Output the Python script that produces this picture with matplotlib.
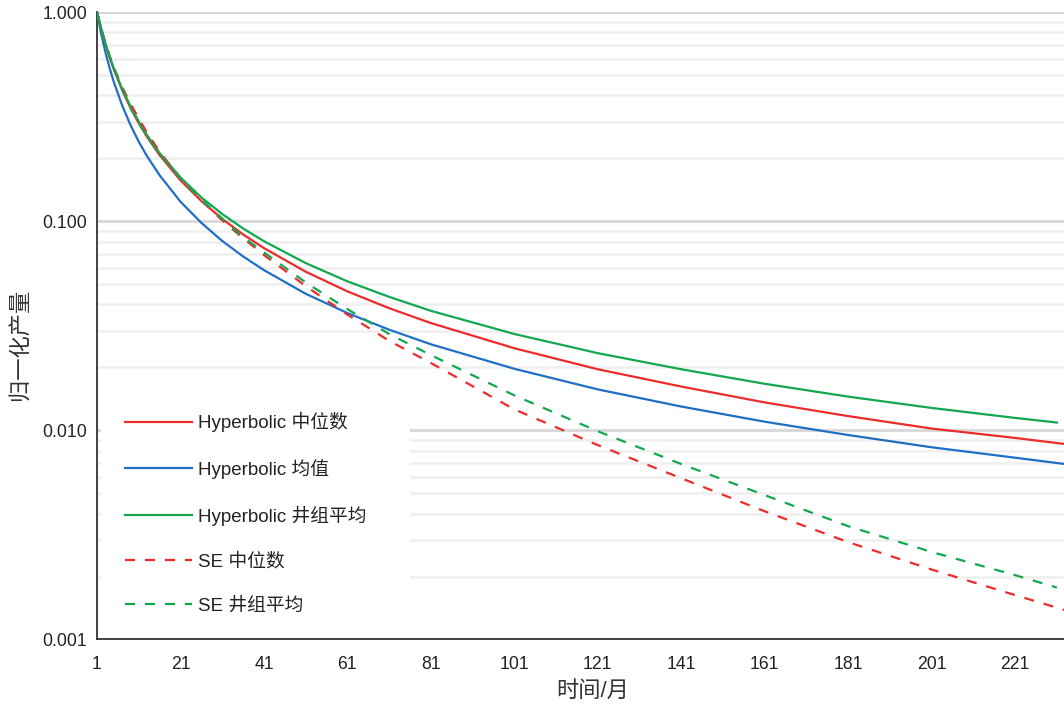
import matplotlib
matplotlib.use("Agg")
import matplotlib.pyplot as plt
from matplotlib.patches import Rectangle
from matplotlib.ticker import FixedLocator, FormatStrFormatter, LogLocator, NullFormatter

plt.rcParams['font.family'] = ['Liberation Sans', 'Noto Sans CJK SC', 'DejaVu Sans']

# months at which normalized rates were sampled
months = [1, 2, 3, 4, 5, 7, 9, 11, 13, 16, 21, 26, 31, 36, 41, 51, 61, 71, 81,
          101, 121, 141, 161, 181, 201, 221, 233]

hyp_median = [1.0, 0.830, 0.704, 0.608, 0.534, 0.424, 0.349, 0.294, 0.253, 0.207,
              0.157, 0.125, 0.1026, 0.0865, 0.0744, 0.0574, 0.0462, 0.0384, 0.0326,
              0.0247, 0.0196, 0.0162, 0.0136, 0.0117, 0.0102, 0.0092, 0.0086]
hyp_mean = [1.0, 0.788, 0.644, 0.542, 0.465, 0.359, 0.289, 0.240, 0.2045, 0.166,
            0.124, 0.0983, 0.0805, 0.0679, 0.0584, 0.0450, 0.0364, 0.0303, 0.0258,
            0.0197, 0.0157, 0.0130, 0.0110, 0.0095, 0.0083, 0.0074, 0.0069]

months_grp = [1, 2, 3, 4, 5, 7, 9, 11, 13, 16, 21, 26, 31, 36, 41, 51, 61, 71, 81,
              101, 121, 141, 161, 181, 201, 221, 231]
hyp_group = [1.0, 0.835, 0.710, 0.615, 0.540, 0.430, 0.355, 0.300, 0.258, 0.212,
             0.162, 0.130, 0.1083, 0.0924, 0.0803, 0.0631, 0.0516, 0.0435, 0.0373,
             0.0289, 0.0234, 0.0196, 0.0167, 0.0145, 0.0128, 0.01147, 0.0109]

se_median = [1.0, 0.83, 0.71, 0.62, 0.545, 0.44, 0.365, 0.31, 0.265, 0.215,
             0.160, 0.126, 0.101, 0.083, 0.069, 0.049, 0.0358, 0.0268, 0.0210,
             0.0126, 0.0085, 0.0059, 0.0041, 0.00292, 0.00216, 0.00163, 0.00138]
se_group = [1.0, 0.83, 0.71, 0.615, 0.54, 0.435, 0.350, 0.297, 0.255, 0.209,
            0.160, 0.127, 0.103, 0.084, 0.071, 0.051, 0.038, 0.0289, 0.0229,
            0.0147, 0.0099, 0.0069, 0.0049, 0.00348, 0.00262, 0.00203, 0.00177]

x_ticks = [1, 21, 41, 61, 81, 101, 121, 141, 161, 181, 201, 221]

RED = '#ee2b2b'
BLUE = '#1f6fc5'
GREEN = '#12a850'

fig = plt.figure(figsize=(10.64, 7.08), dpi=100)
ax = fig.add_axes([0.0912, 0.0968, 0.9088, 0.886])

ax.plot(months, hyp_median, color=RED, lw=1.6, label='Hyperbolic 中位数', zorder=3)
ax.plot(months, hyp_mean, color=BLUE, lw=1.6, label='Hyperbolic 均值', zorder=3)
ax.plot(months_grp, hyp_group, color=GREEN, lw=1.6, label='Hyperbolic 井组平均', zorder=3)
ax.plot(months, se_median, color=RED, lw=1.6, dashes=(4.5, 4.5), label='SE 中位数', zorder=3)
ax.plot(months_grp, se_group, color=GREEN, lw=1.6, dashes=(4.5, 4.5), label='SE 井组平均', zorder=3)

ax.set_yscale('log')
ax.set_ylim(0.001, 1.0)
ax.set_xlim(1, 232.7)

ax.yaxis.set_major_locator(LogLocator(base=10, numticks=10))
ax.yaxis.set_major_formatter(FormatStrFormatter('%.3f'))
ax.yaxis.set_minor_locator(LogLocator(base=10, subs=range(2, 10), numticks=20))
ax.yaxis.set_minor_formatter(NullFormatter())
ax.xaxis.set_major_locator(FixedLocator(x_ticks))

ax.grid(True, which='major', axis='y', color='#d9d9d9', lw=2.2, zorder=0)
ax.grid(True, which='minor', axis='y', color='#efefef', lw=1.8, zorder=0)
ax.set_axisbelow(True)

for side in ('top', 'right'):
    ax.spines[side].set_visible(False)
for side in ('left', 'bottom'):
    ax.spines[side].set_color('#333333')
    ax.spines[side].set_linewidth(1.3)

ax.tick_params(axis='both', which='both', length=0, labelsize=12.7, colors='#222222')
ax.tick_params(axis='x', pad=12)
ax.tick_params(axis='y', pad=7)

ax.set_ylabel('归一化产量', fontsize=16, color='#333333')
ax.set_xlabel('时间/月', fontsize=16, color='#333333')
ax.yaxis.set_label_coords(-0.068, 0.47)
ax.xaxis.set_label_coords(0.513, -0.066)

# white panel behind the legend hides the grid there
ax.add_patch(Rectangle((0.004, 0.012), 0.3195, 0.373, transform=ax.transAxes,
                       facecolor='white', edgecolor='none', zorder=1))

leg = ax.legend(loc='upper left', bbox_to_anchor=(0.029, 0.3625), fontsize=13.5,
                frameon=False, handlelength=3.57, handletextpad=0.32,
                labelspacing=1.43, borderpad=0, borderaxespad=0)
for t in leg.get_texts():
    t.set_color('#222222')

fig.savefig('out.png', dpi=100)
